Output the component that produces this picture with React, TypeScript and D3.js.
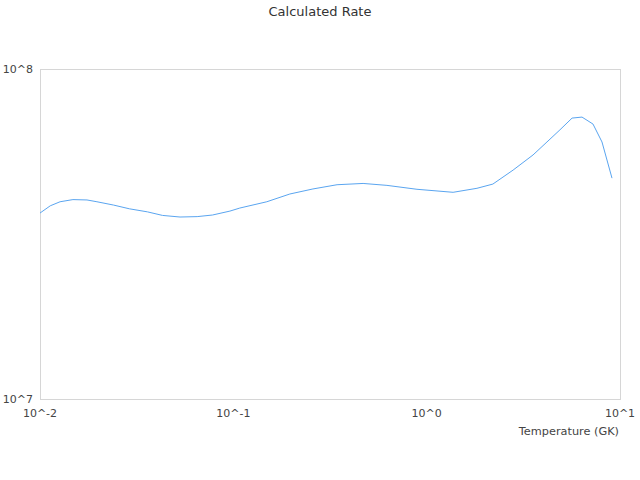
import { useEffect, useRef } from 'react';
import * as d3 from 'd3';

// temperature in GK
const temperatures = [
  0.01, 0.0113, 0.0127, 0.0148, 0.0175, 0.0197, 0.024, 0.029, 0.036, 0.043, 0.053, 0.065,
  0.078, 0.096, 0.108, 0.149, 0.196, 0.258, 0.344, 0.469, 0.623, 0.891, 1.37, 1.82, 2.2,
  2.8, 3.55, 4.19, 4.89, 5.65, 6.36, 7.25, 8.07, 9.09,
];
// rate in units of 1e7
const rates = [
  3.66, 3.85, 3.96, 4.02, 4.01, 3.96, 3.87, 3.77, 3.69, 3.6, 3.56, 3.57, 3.61, 3.71, 3.79,
  3.96, 4.18, 4.33, 4.46, 4.5, 4.44, 4.32, 4.23, 4.35, 4.48, 4.94, 5.49, 6.01, 6.54, 7.1,
  7.15, 6.81, 6.01, 4.67,
];
const xTicks = [0.01, 0.1, 1, 10];
const xTickLabels = ['10^-2', '10^-1', '10^0', '10^1'];
const yTicks = [1e7, 1e8];
const yTickLabels = ['10^7', '10^8'];

const App = () => {
  const svgRef = useRef<SVGSVGElement>(null);

  useEffect(() => {
    if (!svgRef.current) return;
    const root = d3.select(svgRef.current);
    root.selectAll('*').remove();

    const width = 640;
    const height = 480;
    const margin = { top: 69, right: 20, bottom: 81, left: 40 };
    const innerWidth = width - margin.left - margin.right;
    const innerHeight = height - margin.top - margin.bottom;
    const font = '"DejaVu Sans", sans-serif';

    const xScale = d3.scaleLog().domain([0.01, 10]).range([0, innerWidth]);
    const yScale = d3.scaleLog().domain([1e7, 1e8]).range([innerHeight, 0]);

    // 标题
    root
      .append('text')
      .attr('x', width / 2)
      .attr('y', 16)
      .attr('text-anchor', 'middle')
      .attr('font-family', font)
      .attr('font-size', 13)
      .attr('fill', '#333')
      .text('Calculated Rate');

    const g = root.append('g').attr('transform', `translate(${margin.left},${margin.top})`);

    // 边框
    g.append('rect')
      .attr('x', 0.5)
      .attr('y', 0.5)
      .attr('width', innerWidth)
      .attr('height', innerHeight)
      .attr('fill', 'none')
      .attr('stroke', '#d6d6d6');

    // 坐标轴标签
    xTicks.forEach((t, i) => {
      g.append('text')
        .attr('x', xScale(t))
        .attr('y', innerHeight + 18)
        .attr('text-anchor', 'middle')
        .attr('font-family', font)
        .attr('font-size', 11)
        .attr('fill', '#444')
        .text(xTickLabels[i]);
    });
    yTicks.forEach((t, i) => {
      g.append('text')
        .attr('x', -7)
        .attr('y', yScale(t))
        .attr('dy', '0.32em')
        .attr('text-anchor', 'end')
        .attr('font-family', font)
        .attr('font-size', 11)
        .attr('fill', '#444')
        .text(yTickLabels[i]);
    });

    g.append('text')
      .attr('x', innerWidth - 1)
      .attr('y', innerHeight + 36)
      .attr('text-anchor', 'end')
      .attr('font-family', font)
      .attr('font-size', 11.3)
      .attr('fill', '#444')
      .text('Temperature (GK)');

    // 曲线
    const points: [number, number][] = temperatures.map((t, i) => [t, rates[i] * 1e7]);
    const line = d3
      .line<[number, number]>()
      .x((d) => xScale(d[0]))
      .y((d) => yScale(d[1]));

    g.append('path')
      .datum(points)
      .attr('fill', 'none')
      .attr('stroke', '#5aa5f0')
      .attr('stroke-width', 1)
      .attr('d', line);
  }, []);

  return (
    <div style={{ position: 'absolute', left: 0, top: 0, width: 640, height: 480 }}>
      <svg ref={svgRef} width={640} height={480} style={{ display: 'block', overflow: 'visible' }} />
    </div>
  );
};

export default App;
